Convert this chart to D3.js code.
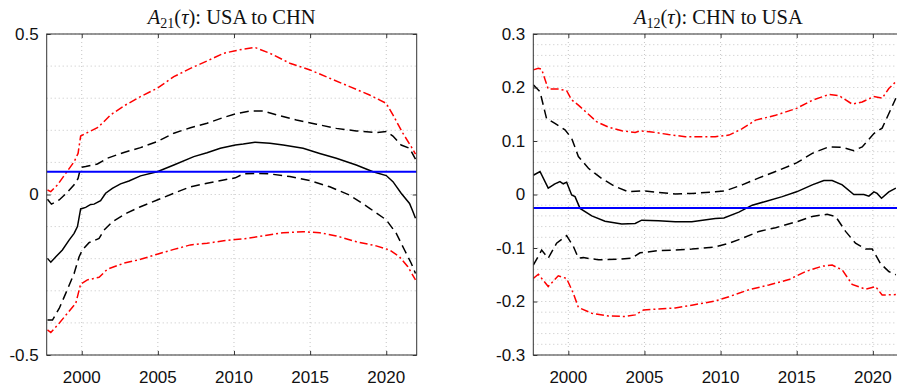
<!DOCTYPE html>
<html>
<head>
<meta charset="utf-8">
<script src="https://cdn.jsdelivr.net/npm/d3@7"></script>
<style>
  html, body { margin: 0; padding: 0; background: #fff; }
  svg { display: block; }
</style>
</head>
<body>
<svg id="chart" width="897" height="386"></svg>
<script>
// A21(tau): USA to CHN  -- [year, value]
const a21Est = [[1997.75,-0.199],[1997.97,-0.211],[1998.30,-0.194],[1998.73,-0.173],[1999.17,-0.142],[1999.50,-0.121],[1999.72,-0.100],[1999.93,-0.045],[2000.26,-0.040],[2000.59,-0.031],[2000.81,-0.030],[2001.24,-0.019],[2001.57,0.004],[2002.01,0.019],[2002.55,0.033],[2003.10,0.042],[2003.86,0.058],[2004.96,0.071],[2006.05,0.092],[2007.36,0.118],[2008.23,0.130],[2009.10,0.144],[2010.09,0.154],[2010.61,0.157],[2011.38,0.163],[2012.36,0.160],[2013.23,0.154],[2014.54,0.144],[2015.63,0.128],[2016.72,0.113],[2018.03,0.092],[2019.13,0.071],[2020.00,0.059],[2020.44,0.040],[2020.98,0.004],[2021.53,-0.028],[2021.75,-0.053],[2021.92,-0.074]];
const a21Hi = [[1997.75,-0.015],[1998.01,-0.030],[1998.52,-0.017],[1998.95,0.002],[1999.50,0.030],[1999.76,0.050],[1999.93,0.084],[2000.26,0.087],[2001.03,0.095],[2001.68,0.113],[2002.77,0.131],[2003.86,0.146],[2004.96,0.165],[2006.05,0.191],[2007.14,0.208],[2008.23,0.222],[2009.32,0.240],[2010.09,0.251],[2011.05,0.260],[2011.92,0.260],[2012.79,0.248],[2014.10,0.232],[2015.41,0.219],[2016.72,0.206],[2018.03,0.198],[2019.34,0.193],[2020.00,0.196],[2020.44,0.182],[2020.98,0.154],[2021.53,0.144],[2021.92,0.110]];
const a21Hi90 = [[1997.75,0.014],[1997.97,0.009],[1998.41,0.030],[1998.95,0.066],[1999.50,0.102],[1999.76,0.128],[1999.93,0.182],[2000.37,0.193],[2001.03,0.208],[2001.35,0.222],[2001.90,0.248],[2002.77,0.276],[2003.86,0.305],[2004.96,0.331],[2006.05,0.367],[2007.14,0.393],[2008.23,0.416],[2009.32,0.440],[2010.09,0.448],[2010.61,0.453],[2011.38,0.458],[2012.36,0.440],[2013.67,0.409],[2015.00,0.388],[2016.29,0.362],[2017.60,0.336],[2018.91,0.310],[2020.00,0.284],[2020.44,0.248],[2021.09,0.191],[2021.64,0.149],[2021.92,0.126]];
const a21Lo = [[1997.75,-0.391],[1998.08,-0.391],[1998.52,-0.355],[1998.95,-0.308],[1999.50,-0.246],[1999.83,-0.194],[2000.04,-0.173],[2000.48,-0.150],[2001.14,-0.137],[2001.46,-0.111],[2002.01,-0.085],[2002.99,-0.057],[2003.86,-0.038],[2004.96,-0.017],[2006.05,0.004],[2007.14,0.024],[2008.23,0.035],[2009.32,0.045],[2010.09,0.052],[2010.61,0.064],[2011.48,0.066],[2012.36,0.064],[2013.67,0.056],[2015.00,0.043],[2016.29,0.024],[2017.60,-0.002],[2018.91,-0.043],[2020.00,-0.079],[2020.66,-0.121],[2021.20,-0.173],[2021.64,-0.214],[2021.92,-0.246]];
const a21Lo90 = [[1997.75,-0.422],[1997.97,-0.430],[1998.52,-0.401],[1999.06,-0.370],[1999.61,-0.339],[1999.93,-0.279],[2000.37,-0.266],[2001.14,-0.258],[2001.68,-0.233],[2002.77,-0.214],[2003.86,-0.202],[2004.96,-0.186],[2006.05,-0.171],[2007.14,-0.157],[2008.23,-0.152],[2009.32,-0.144],[2010.09,-0.140],[2010.83,-0.137],[2011.92,-0.129],[2013.23,-0.119],[2014.54,-0.116],[2015.63,-0.119],[2016.72,-0.129],[2018.03,-0.147],[2019.34,-0.160],[2020.22,-0.173],[2020.87,-0.194],[2021.42,-0.225],[2021.92,-0.266]];
const a21Bench = 0.071;

// A12(tau): CHN to USA
const a12Est = [[1997.70,0.036],[1998.14,0.043],[1998.68,0.012],[1999.12,0.020],[1999.45,0.024],[1999.67,0.020],[1999.89,0.023],[2000.22,-0.001],[2000.44,-0.004],[2000.77,-0.026],[2001.54,-0.040],[2002.41,-0.050],[2003.51,-0.055],[2004.39,-0.054],[2004.82,-0.048],[2005.92,-0.049],[2007.02,-0.051],[2008.11,-0.051],[2009.65,-0.045],[2010.22,-0.044],[2011.20,-0.033],[2012.08,-0.020],[2012.95,-0.013],[2014.05,-0.004],[2014.99,0.005],[2016.02,0.018],[2016.78,0.026],[2017.33,0.026],[2017.99,0.018],[2018.75,0.000],[2019.41,0.000],[2019.74,-0.003],[2020.07,0.005],[2020.28,0.002],[2020.57,-0.007],[2021.05,0.005],[2021.51,0.012]];
const a12Hi = [[1997.70,0.205],[1998.14,0.192],[1998.57,0.142],[1999.12,0.133],[1999.78,0.121],[2000.22,0.105],[2000.66,0.071],[2001.32,0.049],[2002.19,0.030],[2003.07,0.015],[2003.95,0.005],[2004.82,0.007],[2005.92,0.004],[2007.02,0.001],[2008.11,0.002],[2009.65,0.005],[2010.33,0.007],[2011.42,0.018],[2012.52,0.031],[2013.61,0.043],[2014.99,0.059],[2016.02,0.077],[2017.11,0.089],[2017.99,0.088],[2018.75,0.082],[2019.30,0.089],[2020.07,0.114],[2020.61,0.124],[2021.16,0.158],[2021.51,0.180]];
const a12Hi90 = [[1997.70,0.233],[1998.03,0.236],[1998.25,0.234],[1998.68,0.197],[1999.34,0.197],[1999.89,0.194],[2000.22,0.177],[2000.66,0.167],[2001.21,0.153],[2001.86,0.136],[2002.63,0.126],[2003.51,0.119],[2004.39,0.116],[2004.71,0.119],[2005.48,0.117],[2006.58,0.112],[2007.68,0.108],[2009.65,0.108],[2010.55,0.111],[2011.42,0.123],[2012.30,0.139],[2013.61,0.148],[2014.99,0.161],[2016.02,0.176],[2017.11,0.187],[2017.77,0.185],[2018.64,0.169],[2019.30,0.173],[2020.07,0.183],[2020.61,0.180],[2021.05,0.198],[2021.51,0.211]];
const a12Lo = [[1997.70,-0.132],[1998.25,-0.104],[1998.68,-0.119],[1999.23,-0.091],[1999.89,-0.077],[2000.33,-0.097],[2000.66,-0.119],[2000.99,-0.118],[2001.97,-0.122],[2003.29,-0.121],[2004.17,-0.119],[2004.71,-0.109],[2005.92,-0.105],[2007.02,-0.104],[2008.11,-0.102],[2009.65,-0.098],[2010.55,-0.091],[2011.42,-0.082],[2012.52,-0.069],[2013.61,-0.062],[2014.99,-0.051],[2016.02,-0.041],[2017.00,-0.037],[2017.55,-0.041],[2018.21,-0.069],[2018.86,-0.091],[2019.52,-0.102],[2019.96,-0.102],[2020.50,-0.129],[2021.05,-0.144],[2021.51,-0.150]];
const a12Lo90 = [[1997.70,-0.157],[1998.03,-0.149],[1998.68,-0.172],[1999.34,-0.152],[1999.89,-0.157],[2000.33,-0.185],[2000.66,-0.211],[2001.54,-0.222],[2002.63,-0.227],[2003.73,-0.228],[2004.39,-0.225],[2004.93,-0.216],[2005.92,-0.214],[2007.02,-0.212],[2008.11,-0.207],[2009.65,-0.199],[2010.55,-0.191],[2011.86,-0.178],[2013.17,-0.169],[2014.49,-0.159],[2015.58,-0.144],[2016.67,-0.134],[2017.33,-0.132],[2017.99,-0.141],[2018.64,-0.168],[2019.52,-0.177],[2020.18,-0.172],[2020.61,-0.188],[2021.51,-0.187]];
const a12Bench = -0.025;

// ticks
const xTicks = [2000, 2005, 2010, 2015, 2020];
const a21YTicks = [-0.5, 0, 0.5];
const a12YTicks = [-0.3, -0.2, -0.1, 0, 0.1, 0.2, 0.3];

const svg = d3.select('#chart');
const plotW = 370, plotH = 321, plotTop = 34;

const panels = [
    { id: "p21", left: 46.7, yDomain: [-0.5, 0.5], yTicks: a21YTicks, gridStep: 0.1,
      sub: "21", label: "): USA to CHN",
      est: a21Est, hi: a21Hi, lo: a21Lo, hi90: a21Hi90, lo90: a21Lo90, bench: a21Bench },
    { id: "p12", left: 533.3, yDomain: [-0.3, 0.3], yTicks: a12YTicks, gridStep: 0.02,
      sub: "12", label: "): CHN to USA",
      est: a12Est, hi: a12Hi, lo: a12Lo, hi90: a12Hi90, lo90: a12Lo90, bench: a12Bench }
];

const fmt = v => v === 0 ? "0" : String(v);

panels.forEach(p => {
    const x = d3.scaleLinear().domain([1997.7, 2022]).range([0, plotW]);
    const y = d3.scaleLinear().domain(p.yDomain).range([plotH, 0]);
    const g = svg.append("g").attr("transform", `translate(${p.left},${plotTop})`);

    g.append("defs").append("clipPath").attr("id", "clip-" + p.id)
        .append("rect").attr("width", plotW).attr("height", plotH);

    // grid lines (dotted)
    const nGrid = Math.round((p.yDomain[1] - p.yDomain[0]) / p.gridStep);
    const gridVals = d3.range(nGrid + 1).map(i => p.yDomain[0] + i * p.gridStep);
    g.append("g").selectAll("line").data(gridVals).enter().append("line")
        .attr("x1", 0).attr("x2", plotW)
        .attr("y1", d => y(d)).attr("y2", d => y(d))
        .attr("stroke", "#c4c4c4").attr("stroke-width", 1)
        .attr("stroke-dasharray", "1,3");
    g.append("g").selectAll("line").data(xTicks).enter().append("line")
        .attr("x1", d => x(d)).attr("x2", d => x(d))
        .attr("y1", 0).attr("y2", plotH)
        .attr("stroke", "#c4c4c4").attr("stroke-width", 1)
        .attr("stroke-dasharray", "1,3");

    // series
    const line = d3.line().x(d => x(d[0])).y(d => y(d[1]));
    const lines = g.append("g").attr("clip-path", `url(#clip-${p.id})`).attr("fill", "none");
    [p.lo90, p.hi90].forEach(s => lines.append("path").datum(s).attr("d", line)
        .attr("stroke", "#ff0000").attr("stroke-width", 1.5).attr("stroke-dasharray", "8,3,2,3"));
    [p.lo, p.hi].forEach(s => lines.append("path").datum(s).attr("d", line)
        .attr("stroke", "#000").attr("stroke-width", 1.5).attr("stroke-dasharray", "9,5"));
    lines.append("path").datum(p.est).attr("d", line)
        .attr("stroke", "#000").attr("stroke-width", 1.5);
    lines.append("line")
        .attr("x1", 0).attr("x2", plotW)
        .attr("y1", y(p.bench)).attr("y2", y(p.bench))
        .attr("stroke", "#0000ff").attr("stroke-width", 2);

    // axes (ticks inward, box)
    const tickLen = 4;
    const axes = [
        d3.axisBottom(x).tickValues(xTicks).tickSize(tickLen).tickFormat(""),
        d3.axisTop(x).tickValues(xTicks).tickSize(tickLen).tickFormat(""),
        d3.axisLeft(y).tickValues(p.yTicks).tickSize(tickLen).tickFormat(""),
        d3.axisRight(y).tickValues(p.yTicks).tickSize(tickLen).tickFormat("")
    ];
    const pos = [`translate(0,${plotH}) scale(1,-1)`, "scale(1,-1)", "scale(-1,1)", `translate(${plotW},0) scale(-1,1)`];
    axes.forEach((a, i) => {
        const ag = g.append("g").attr("transform", pos[i]).call(a);
        ag.select(".domain").remove();
        ag.selectAll("line").attr("stroke", "#333");
    });
    g.append("rect").attr("width", plotW).attr("height", plotH)
        .attr("fill", "none").attr("stroke", "#333").attr("stroke-width", 1);

    // tick labels
    g.append("g").selectAll("text").data(xTicks).enter().append("text")
        .attr("x", d => x(d)).attr("y", plotH + 28)
        .attr("text-anchor", "middle")
        .attr("font-family", "Liberation Sans, Arial, sans-serif").attr("font-size", 17)
        .attr("fill", "#111").text(d => d);
    g.append("g").selectAll("text").data(p.yTicks).enter().append("text")
        .attr("x", -8).attr("y", d => y(d)).attr("dy", "0.35em")
        .attr("text-anchor", "end")
        .attr("font-family", "Liberation Sans, Arial, sans-serif").attr("font-size", 17)
        .attr("fill", "#111").text(fmt);

    // title
    const t = g.append("text").attr("x", plotW / 2).attr("y", -10)
        .attr("text-anchor", "middle")
        .attr("font-family", "Liberation Serif, Times New Roman, serif").attr("font-size", 20.5)
        .attr("fill", "#111");
    t.append("tspan").attr("font-style", "italic").text("A");
    t.append("tspan").attr("font-size", 14).attr("dy", 4).text(p.sub);
    t.append("tspan").attr("dy", -4).text("(");
    t.append("tspan").attr("font-style", "italic").text("τ");
    t.append("tspan").text(p.label);
});
</script>
</body>
</html>
